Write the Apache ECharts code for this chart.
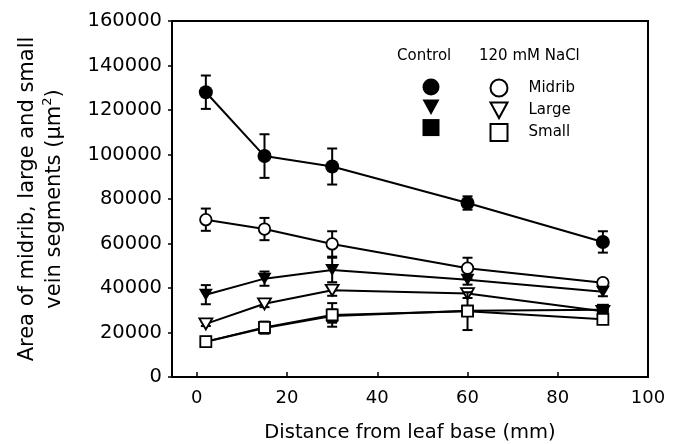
<!DOCTYPE html>
<html>
<head>
<meta charset="utf-8">
<script src="https://cdn.jsdelivr.net/npm/echarts@6/dist/echarts.min.js"></script>
<style>
    html, body { margin: 0; padding: 0; background: #fff; }
    #chart { width: 678px; height: 444px; }
</style>
</head>
<body>
<div id="chart"></div>
<script>
// 横轴：距叶基距离 (mm)
var distance = [2, 15, 30, 60, 90];
var xTickLabels = [0, 20, 40, 60, 80, 100];

// 对照组
var controlMidrib    = [128000, 99300, 94600, 78200, 60700];
var controlMidribErr = [7500, 9800, 8100, 3000, 4800];
var controlLarge     = [37000, 44200, 48100, 43700, 38300];
var controlLargeErr  = [4300, 3200, 5500, 2200, 2000];
var controlSmall     = [15800, 22000, 27400, 29800, 30200];
var controlSmallErr  = [1200, 2500, 3000, 2000, 1500];

// 120 mM NaCl
var naclMidrib    = [70700, 66500, 59800, 48900, 42400];
var naclMidribErr = [5000, 5000, 5700, 4700, 1500];
var naclLarge     = [23900, 32900, 39000, 37500, 29500];
var naclLargeErr  = [1000, 1500, 2500, 2000, 1000];
var naclSmall     = [15900, 22300, 27900, 29600, 25900];
var naclSmallErr  = [1200, 2600, 5300, 8500, 1500];

var FONT = 'DejaVu Sans';
var TRI_DOWN = 'path://M0,0L12,0L6,11Z';

/** 误差线 */
function renderErrorBar(params, api) {
    var x = api.value(0);
    var lo = api.coord([x, api.value(1)]);
    var hi = api.coord([x, api.value(2)]);
    var half = 5;
    var style = { stroke: '#000', lineWidth: 2 };
    return {
        type: 'group',
        children: [
            { type: 'line', shape: { x1: lo[0], y1: lo[1], x2: hi[0], y2: hi[1] }, style: style },
            { type: 'line', shape: { x1: lo[0] - half, y1: lo[1], x2: lo[0] + half, y2: lo[1] }, style: style },
            { type: 'line', shape: { x1: hi[0] - half, y1: hi[1], x2: hi[0] + half, y2: hi[1] }, style: style }
        ]
    };
}

/** 一组数据 = 误差线 + 折线 */
function makeSeries(name, values, errors, symbol, size, filled, z) {
    var pts = [], errPts = [];
    for (var i = 0; i < distance.length; i++) {
        pts.push([distance[i], values[i]]);
        errPts.push([distance[i], values[i] - errors[i], values[i] + errors[i]]);
    }
    return [
        {
            name: name + ' err',
            type: 'custom',
            renderItem: renderErrorBar,
            data: errPts,
            encode: { x: 0, y: [1, 2] },
            silent: true,
            z: z
        },
        {
            name: name,
            type: 'line',
            data: pts,
            symbol: symbol,
            symbolSize: size,
            showAllSymbol: true,
            lineStyle: { color: '#000', width: 2 },
            itemStyle: filled
                ? { color: '#000', borderColor: '#000', borderWidth: 0 }
                : { color: '#fff', borderColor: '#000', borderWidth: 1.8 },
            z: z + 1
        }
    ];
}

var series = [].concat(
    makeSeries('Control Midrib', controlMidrib, controlMidribErr, 'circle', 14, true, 2),
    makeSeries('NaCl Midrib', naclMidrib, naclMidribErr, 'circle', 11.5, false, 4),
    makeSeries('Control Large', controlLarge, controlLargeErr, TRI_DOWN, [14, 12], true, 6),
    makeSeries('NaCl Large', naclLarge, naclLargeErr, TRI_DOWN, [13, 11], false, 8),
    makeSeries('Control Small', controlSmall, controlSmallErr, 'rect', 12, true, 10),
    makeSeries('NaCl Small', naclSmall, naclSmallErr, 'rect', 11, false, 12)
);

var legendText = { fontFamily: FONT, fontSize: 15, lineHeight: 17, color: '#000' };

var chart = echarts.init(document.getElementById('chart'));
var option = {
    animation: false,
    backgroundColor: '#fff',
    title: [
        { text: 'Control', left: 397, top: 49, padding: 0,
          textStyle: { fontFamily: FONT, fontSize: 15, fontWeight: 'normal', color: '#000' } },
        { text: '120 mM NaCl', left: 479, top: 49, padding: 0,
          textStyle: { fontFamily: FONT, fontSize: 15, fontWeight: 'normal', color: '#000' } }
    ],
    legend: [
        {
            data: [
                { name: 'Control Midrib', icon: 'circle' },
                { name: 'Control Large', icon: TRI_DOWN },
                { name: 'Control Small', icon: 'rect' }
            ],
            orient: 'vertical', left: 422.5, top: 78.5, padding: 0,
            itemWidth: 17, itemHeight: 17, itemGap: 4,
            selectedMode: false,
            lineStyle: { opacity: 0 },
            formatter: function () { return ''; },
            textStyle: legendText
        },
        {
            data: [
                { name: 'NaCl Midrib', icon: 'circle' },
                { name: 'NaCl Large', icon: TRI_DOWN },
                { name: 'NaCl Small', icon: 'rect' }
            ],
            orient: 'vertical', left: 489.5, top: 78.5, padding: 0,
            itemWidth: 17, itemHeight: 17, itemGap: 4,
            selectedMode: false,
            lineStyle: { opacity: 0 },
            formatter: function (name) { return name.replace('NaCl ', ''); },
            textStyle: { fontFamily: FONT, fontSize: 15, lineHeight: 17, color: '#000', padding: [0, 0, 0, 16] }
        }
    ],
    grid: {
        left: 172, right: 30, top: 21, bottom: 67,
        show: true, borderColor: '#000', borderWidth: 2,
        containLabel: false, outerBoundsMode: 'none'
    },
    xAxis: {
        type: 'value',
        min: -5.5,
        max: 100,
        name: 'Distance from leaf base (mm)',
        nameLocation: 'middle',
        nameGap: 46,
        nameMoveOverlap: false,
        nameTextStyle: { fontFamily: FONT, fontSize: 19.5, color: '#000' },
        axisLine: { show: true, onZero: false, lineStyle: { color: '#000', width: 2 } },
        axisTick: { show: true, inside: true, length: 5, customValues: [0, 20, 40, 60, 80],
                    lineStyle: { color: '#000', width: 1.5 } },
        axisLabel: { customValues: xTickLabels, fontFamily: FONT, fontSize: 18, color: '#000', margin: 12 },
        splitLine: { show: false }
    },
    yAxis: {
        type: 'value',
        min: 0,
        max: 160000,
        interval: 20000,
        name: '{t|Area of midrib, large and small}\n{t|vein segments (\u03bcm}{s|2}{t|)}',
        nameLocation: 'middle',
        nameGap: 104,
        nameMoveOverlap: false,
        nameTextStyle: {
            fontFamily: FONT, color: '#000',
            rich: {
                t: { fontFamily: FONT, fontSize: 21, color: '#000', lineHeight: 27 },
                s: { fontFamily: FONT, fontSize: 13, color: '#000', lineHeight: 14, verticalAlign: 'top' }
            }
        },
        axisLine: { show: true, onZero: false, lineStyle: { color: '#000', width: 2 } },
        axisTick: { show: true, inside: false, length: 4, lineStyle: { color: '#000', width: 1.5 } },
        axisLabel: {
            fontFamily: FONT, fontSize: 19.5, color: '#000', margin: 10,
            formatter: function (v) { return String(v); }
        },
        splitLine: { show: false }
    },
    series: series
};
chart.setOption(option);
</script>
</body>
</html>
